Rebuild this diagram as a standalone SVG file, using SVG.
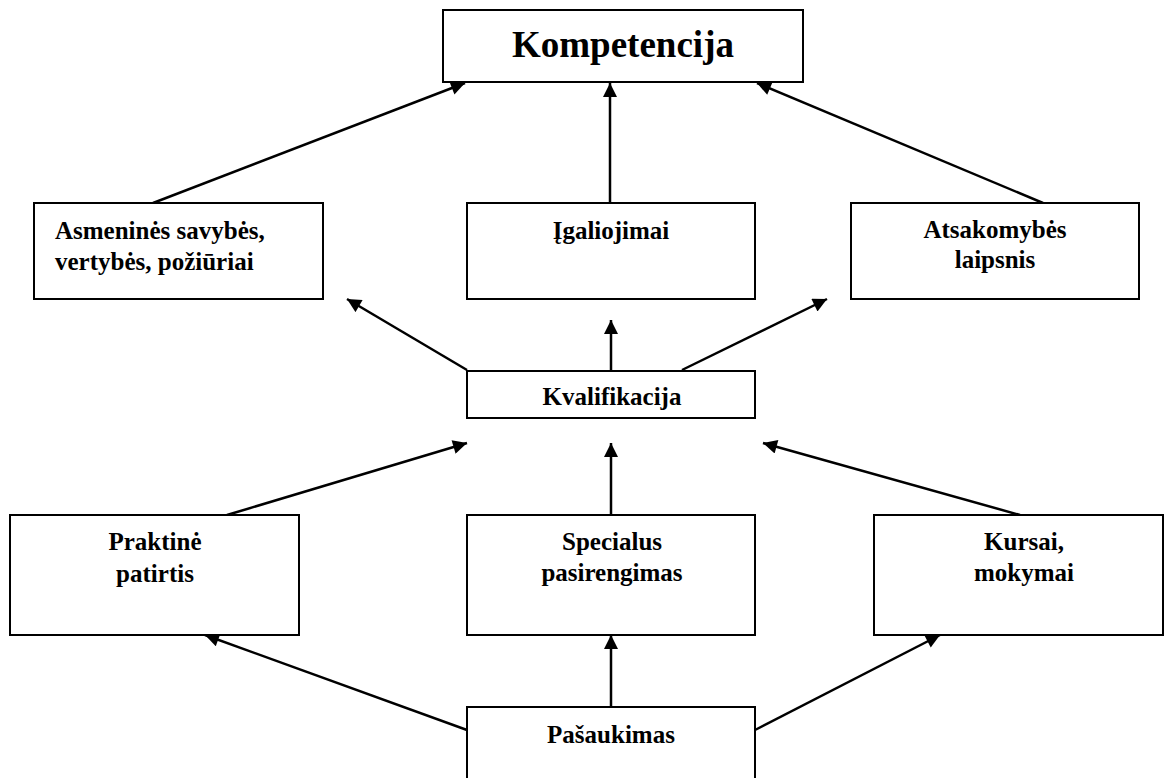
<svg xmlns="http://www.w3.org/2000/svg" width="1169" height="778" viewBox="0 0 1169 778">
  <style>
    .box { fill: #fff; stroke: #000; stroke-width: 2; }
    text { font-family: 'Liberation Serif', 'Times New Roman', Times, 'DejaVu Serif', serif; font-weight: bold; font-size: 25px; fill: #000; }
    .ctr { text-anchor: middle; }
    .title { font-size: 37px; }
    .conn { stroke: #000; stroke-width: 2.5; fill: none; marker-end: url(#arrow); }
  </style>
  <defs>
    <marker id="arrow" viewBox="0 0 10 10" refX="10" refY="5" markerUnits="userSpaceOnUse" markerWidth="16" markerHeight="14" orient="auto">
      <path d="M0,0 L10,5 L0,10 Z" fill="#000"/>
    </marker>
  </defs>
  <rect width="1169" height="778" fill="#fff"/>

  <g id="connectors">
    <line class="conn" x1="153" y1="203" x2="465" y2="83"/>
    <line class="conn" x1="610" y1="203" x2="610" y2="83"/>
    <line class="conn" x1="1043" y1="203" x2="757" y2="83"/>
    <line class="conn" x1="467" y1="370" x2="347" y2="299"/>
    <line class="conn" x1="611" y1="370" x2="611" y2="320"/>
    <line class="conn" x1="682" y1="370" x2="827" y2="299"/>
    <line class="conn" x1="227" y1="515" x2="467" y2="443"/>
    <line class="conn" x1="611" y1="515" x2="611" y2="443"/>
    <line class="conn" x1="1020" y1="515" x2="763" y2="443"/>
    <line class="conn" x1="467" y1="730" x2="205" y2="635"/>
    <line class="conn" x1="611" y1="707" x2="611" y2="635"/>
    <line class="conn" x1="755" y1="730" x2="940" y2="635"/>
  </g>

  <g id="kompetencija">
    <rect class="box" x="443" y="10" width="360" height="72"/>
    <text class="ctr title" x="623" y="57">Kompetencija</text>
  </g>

  <g id="asmenines-savybes">
    <rect class="box" x="34" y="203" width="289" height="96"/>
    <text x="55" y="239">Asmeninės savybės,</text>
    <text x="55" y="270">vertybės, požiūriai</text>
  </g>

  <g id="igaliojimai">
    <rect class="box" x="467" y="203" width="288" height="96"/>
    <text class="ctr" x="611" y="239">Įgaliojimai</text>
  </g>

  <g id="atsakomybes-laipsnis">
    <rect class="box" x="851" y="203" width="288" height="96"/>
    <text class="ctr" x="995" y="238">Atsakomybės</text>
    <text class="ctr" x="995" y="268">laipsnis</text>
  </g>

  <g id="kvalifikacija">
    <rect class="box" x="467" y="371" width="288" height="47"/>
    <text class="ctr" x="612" y="405">Kvalifikacija</text>
  </g>

  <g id="praktine-patirtis">
    <rect class="box" x="10" y="515" width="289" height="120"/>
    <text class="ctr" x="155" y="550">Praktinė</text>
    <text class="ctr" x="155" y="582">patirtis</text>
  </g>

  <g id="specialus-pasirengimas">
    <rect class="box" x="467" y="515" width="288" height="120"/>
    <text class="ctr" x="612" y="550">Specialus</text>
    <text class="ctr" x="612" y="581">pasirengimas</text>
  </g>

  <g id="kursai-mokymai">
    <rect class="box" x="874" y="515" width="289" height="120"/>
    <text class="ctr" x="1024" y="550">Kursai,</text>
    <text class="ctr" x="1024" y="581">mokymai</text>
  </g>

  <g id="pasaukimas">
    <rect class="box" x="467" y="707" width="288" height="80"/>
    <text class="ctr" x="611" y="743">Pašaukimas</text>
  </g>
</svg>
